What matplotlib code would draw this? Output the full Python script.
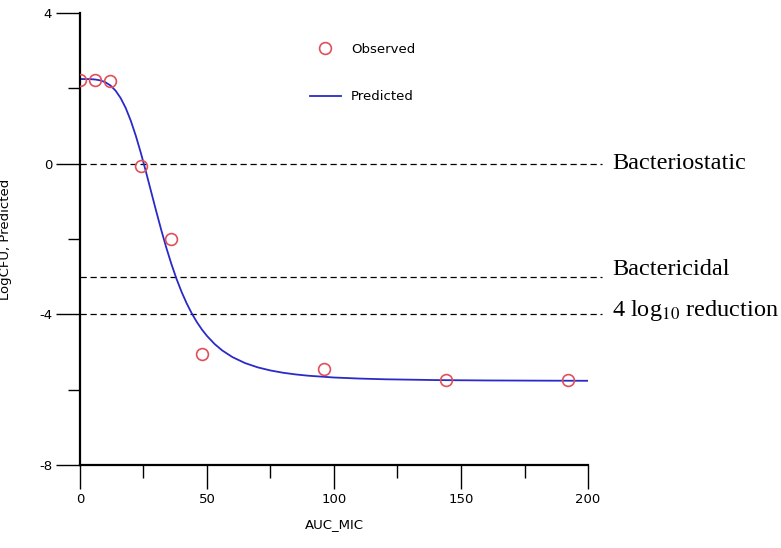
#!/usr/bin/env python3
import matplotlib
matplotlib.use("Agg")
from matplotlib import pyplot as plt

# observed data
obs_x = [0, 6, 12, 24, 36, 48, 96, 144, 192]
obs_y = [2.22, 2.22, 2.2, -0.05, -1.99, -5.04, -5.45, -5.75, -5.75]

# predicted curve
pred_x = [0, 2, 4, 6, 8, 10, 12, 14, 16, 18, 20, 22, 24, 26, 28, 30, 32, 34, 36,
          38, 40, 42, 44, 46, 48, 50, 53, 56, 60, 65, 70, 75, 80, 85, 90, 100,
          110, 120, 140, 160, 180, 200]
pred_y = [2.25, 2.25, 2.248, 2.238, 2.214, 2.165, 2.079, 1.943, 1.746, 1.482,
          1.144, 0.74, 0.28, -0.219, -0.739, -1.258, -1.76, -2.232, -2.665,
          -3.056, -3.403, -3.707, -3.973, -4.203, -4.402, -4.573, -4.787, -4.958,
          -5.134, -5.294, -5.408, -5.49, -5.551, -5.596, -5.63, -5.677,
          -5.705, -5.724, -5.745, -5.755, -5.76, -5.764]

# reference levels
ref_y = [0, -3, -4]
ref_labels = ["Bacteriostatic", "Bactericidal", "4 log$_{10}$ reduction"]
ref_text_y = [0.0, -2.8, -3.9]

plt.rcParams['mathtext.fontset'] = 'stix'
plt.rcParams['axes.unicode_minus'] = False

fig = plt.figure(figsize=(7.81, 5.48), dpi=100)
ax = fig.add_axes([0.1024, 0.1515, 0.6505, 0.8245])

ax.plot(obs_x, obs_y, 'o', mfc='none', mec='#e0505a', ms=8.5, mew=1.2,
        label="Observed", zorder=3)
ax.plot(pred_x, pred_y, '-', color='#2a2ac8', lw=1.3, label="Predicted")

for y, lab, ty in zip(ref_y, ref_labels, ref_text_y):
    ax.plot([0, 205.5], [y, y], color='black', lw=0.9, ls=(0, (5, 3)),
            clip_on=False, zorder=1)
    ax.text(209.5, ty, lab, family='Liberation Serif', fontsize=17.5,
            va='center', ha='left', clip_on=False)

ax.set_xlim(0, 200)
ax.set_ylim(-8, 4)
ax.set_xticks([0, 50, 100, 150, 200])
ax.set_xticks([25, 75, 125, 175], minor=True)
ax.set_yticks([-8, -4, 0, 4])
ax.set_yticks([-6, -2, 2], minor=True)

for s in ['top', 'right']:
    ax.spines[s].set_visible(False)
for s in ['left', 'bottom']:
    ax.spines[s].set_linewidth(1.6)

ax.tick_params(which='major', direction='out', length=17, width=1.0,
               labelsize=9.5, pad=3)
ax.tick_params(which='minor', direction='out', length=9, width=1.0)

ax.set_xlabel("AUC_MIC", fontsize=9.5)
ax.set_ylabel("LogCFU, Predicted", fontsize=9.5)
ax.xaxis.set_label_coords(0.5, -0.117)
ax.yaxis.set_label_coords(-0.134, 0.5)

ax.legend(loc='upper left', bbox_to_anchor=(0.43, 0.96), frameon=False,
          labelspacing=2.6, handlelength=2.3, fontsize=9.5)

fig.savefig("out.png", dpi=100)
